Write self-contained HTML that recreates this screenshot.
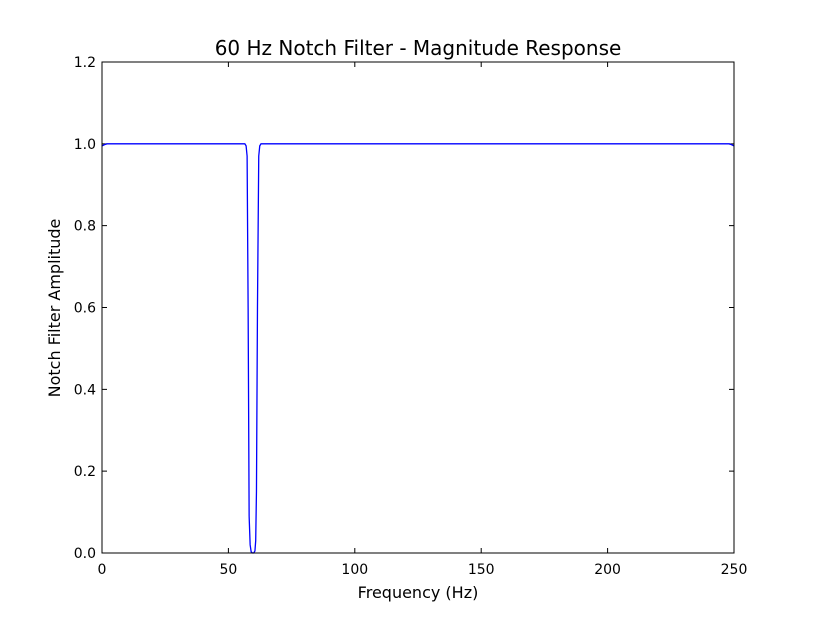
<!DOCTYPE html>
<html><head><meta charset="utf-8"><style>
body{margin:0;background:#fff;}
svg text{font-family:"DejaVu Sans","Liberation Sans",sans-serif;fill:#000;}
</style></head><body>
<svg id="chart" width="815" height="615" xmlns="http://www.w3.org/2000/svg">
<rect width="815" height="615" fill="#fff"/>
<text x="418" y="55" font-size="20" text-anchor="middle">60 Hz Notch Filter - Magnitude Response</text>
<text x="418" y="598" font-size="16" text-anchor="middle">Frequency (Hz)</text>
<text transform="translate(60,308) rotate(-90)" font-size="16" text-anchor="middle">Notch Filter Amplitude</text>
<g id="ticks"></g>
<path id="line" fill="none" stroke="#0000ff" stroke-width="1.3"/>
<rect x="102" y="62" width="632" height="491" fill="none" stroke="#000" stroke-width="1"/>
</svg>
<script>
const freqs=[0,1,2,5,20,40,50,55,56.5,57,57.4,57.8,58.2,58.6,59,59.5,60,60.5,60.8,61.1,61.5,62,62.4,62.9,64,70,100,150,200,240,248,249,250];
const amps=[0.995,0.998,1,1,1,1,1,1,1,0.995,0.97,0.6,0.09,0.02,0.003,0,0,0.005,0.03,0.15,0.6,0.97,0.995,1,1,1,1,1,1,1,1,0.998,0.995];
const xTicks=[0,50,100,150,200,250];
const yTicks=[0,0.2,0.4,0.6,0.8,1.0,1.2];
const X=v=>102+v/250*632, Y=v=>553-v/1.2*491;
const g=document.getElementById('ticks');
const ns='http://www.w3.org/2000/svg';
function mk(t,a){const e=document.createElementNS(ns,t);for(const k in a)e.setAttribute(k,a[k]);g.appendChild(e);return e;}
xTicks.forEach(v=>{
  const l=mk('path',{d:`M${X(v)},553v-5M${X(v)},62v5`,stroke:'#000'});
  
  
  const t=mk('text',{x:X(v),y:574,'font-size':14,'text-anchor':'middle'});t.textContent=v;
  
  
});
yTicks.forEach(v=>{
  const l=mk('path',{d:`M102,${Y(v)}h5M734,${Y(v)}h-5`,stroke:'#000'});
  
  
  const t=mk('text',{x:96,y:Y(v)+5,'font-size':14,'text-anchor':'end'});t.textContent=v.toFixed(1);
  
  
});
document.getElementById('line').setAttribute('d',freqs.map((f,i)=>(i?'L':'M')+X(f).toFixed(2)+','+Y(amps[i]).toFixed(2)).join(''));
</script>
</body></html>
